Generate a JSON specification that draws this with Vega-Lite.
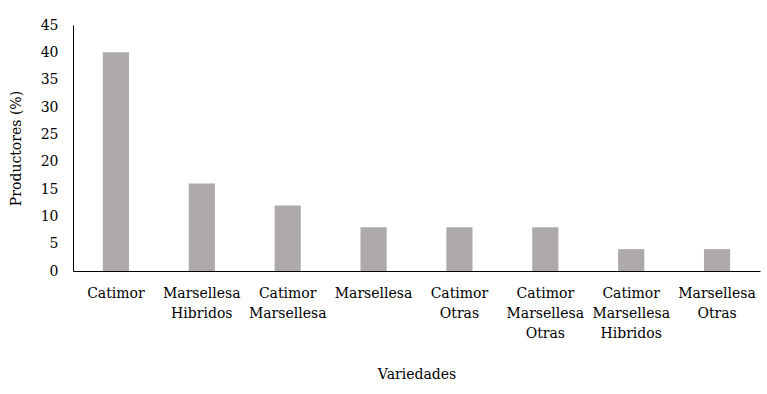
{
  "$schema": "https://vega.github.io/schema/vega-lite/v6.json",
  "width": 687,
  "height": 246,
  "autosize": {"type": "none"},
  "padding": {"left": 73, "top": 25, "right": 7, "bottom": 123},
  "background": "white",
  "config": {
    "view": {"stroke": null},
    "font": "DejaVu Serif"
  },
  "data": {
    "values": [
      {"variedad": "Catimor", "productores": 40},
      {"variedad": "Marsellesa|Hibridos", "productores": 16},
      {"variedad": "Catimor|Marsellesa", "productores": 12},
      {"variedad": "Marsellesa", "productores": 8},
      {"variedad": "Catimor|Otras", "productores": 8},
      {"variedad": "Catimor|Marsellesa|Otras", "productores": 8},
      {"variedad": "Catimor|Marsellesa|Hibridos", "productores": 4},
      {"variedad": "Marsellesa|Otras", "productores": 4}
    ]
  },
  "mark": {"type": "bar", "color": "#AEAAAA", "width": {"band": 0.305}},
  "encoding": {
    "x": {
      "field": "variedad",
      "type": "nominal",
      "sort": null,
      "scale": {"paddingInner": 0, "paddingOuter": 0},
      "axis": {
        "title": "Variedades",
        "labelExpr": "split(datum.label, '|')",
        "labelAngle": 0,
        "labelFont": "DejaVu Serif",
        "labelFontSize": 14,
        "labelColor": "#000000",
        "labelLineHeight": 20,
        "labelPadding": 15,
        "ticks": false,
        "domainColor": "#000000",
        "domainWidth": 1,
        "titleFont": "DejaVu Serif",
        "titleFontSize": 14,
        "titleFontWeight": "normal",
        "titleColor": "#000000",
        "titlePadding": 27,
        "grid": false
      }
    },
    "y": {
      "field": "productores",
      "type": "quantitative",
      "scale": {"domain": [0, 45]},
      "axis": {
        "title": "Productores (%)",
        "values": [0, 5, 10, 15, 20, 25, 30, 35, 40, 45],
        "labelFont": "DejaVu Serif",
        "labelFontSize": 14,
        "labelColor": "#000000",
        "labelPadding": 15,
        "ticks": false,
        "domainColor": "#000000",
        "domainWidth": 1,
        "grid": false,
        "titleFont": "DejaVu Serif",
        "titleFontSize": 14,
        "titleFontWeight": "normal",
        "titleColor": "#000000",
        "titlePadding": 17
      }
    }
  }
}
